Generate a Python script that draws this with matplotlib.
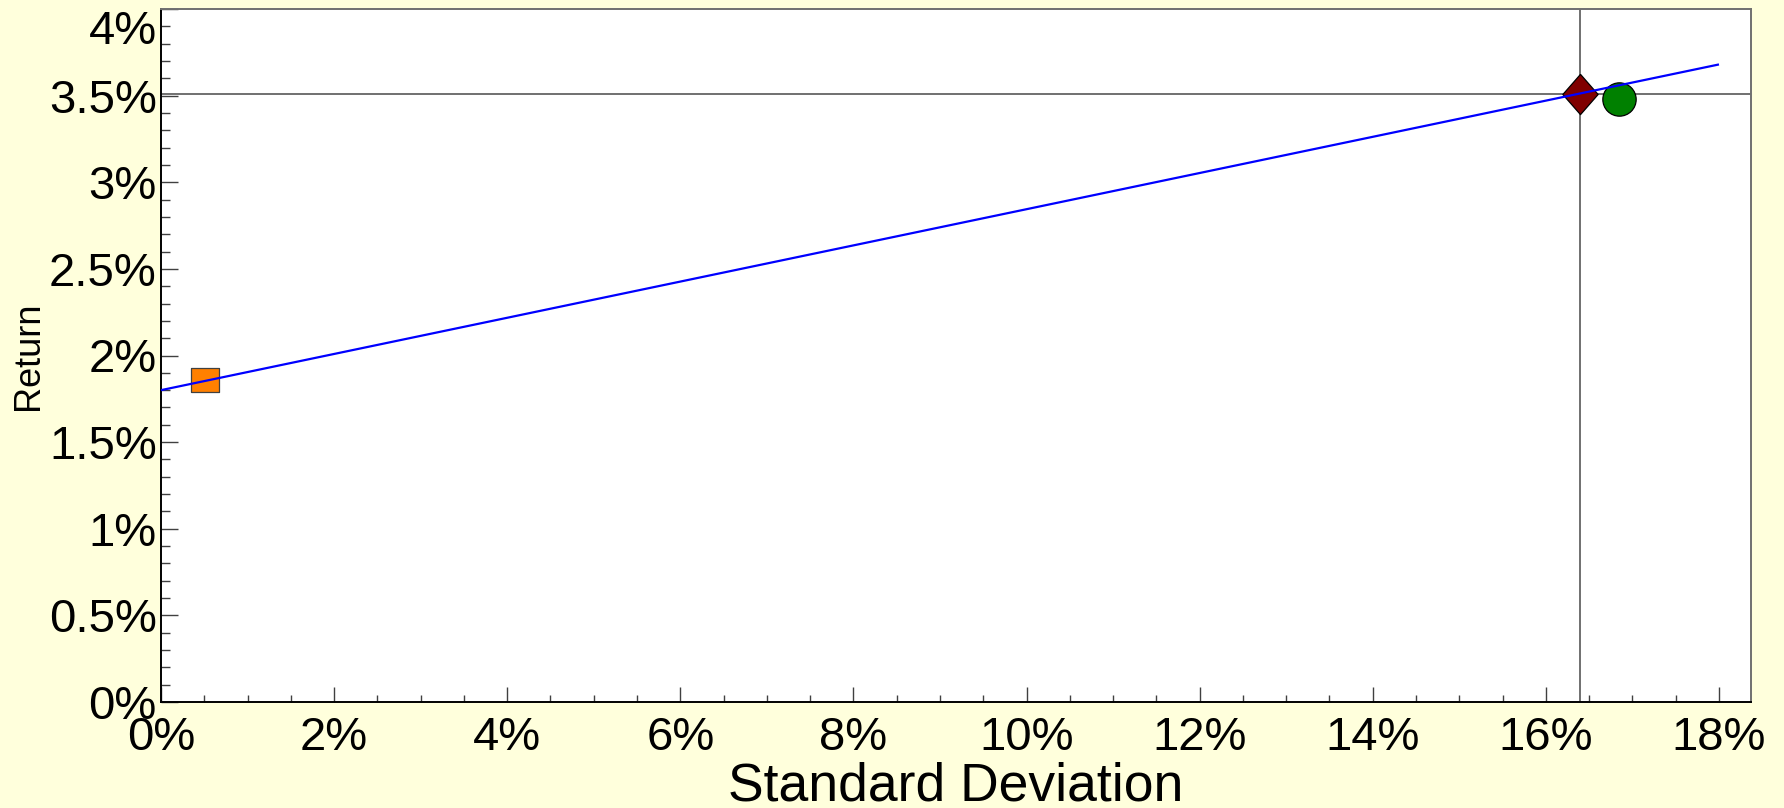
import matplotlib
matplotlib.use("Agg")
import matplotlib.pyplot as plt
from matplotlib.transforms import ScaledTranslation

# Data (percent units)
line_x = [0.0, 18.0]
line_y = [1.80, 3.68]
square_pt = (0.51, 1.858)
diamond_pt = (16.39, 3.51)
circle_pt = (16.85, 3.483)
x_ticks = [0, 2, 4, 6, 8, 10, 12, 14, 16, 18]
y_ticks = [0, 0.5, 1, 1.5, 2, 2.5, 3, 3.5, 4]
x_label = "Standard Deviation"
y_label = "Return"

plt.rcParams['font.family'] = ['Liberation Sans', 'DejaVu Sans']

bg = '#FFFFDC'
fig = plt.figure(figsize=(17.84, 8.08), dpi=100, facecolor=bg)
ax = fig.add_axes([161/1784, 1-702/808, (1751-161)/1784, (702-9)/808])
ax.set_facecolor('white')

ax.set_xlim(0, 18.37)
ax.set_ylim(0, 4.0)

# crosshair
ax.axvline(diamond_pt[0], color='#707070', lw=1.4, zorder=1)
ax.axhline(diamond_pt[1], color='#707070', lw=1.4, zorder=1)

sq = [(-1, -0.89), (1, -0.89), (1, 0.89), (-1, 0.89), (-1, -0.89)]
dm = [(0, 1), (0.875, 0), (0, -1), (-0.875, 0), (0, 1)]
ax.plot([square_pt[0]], [square_pt[1]], marker=sq, ms=19.5, mfc='#FF8000',
        mec='#404040', mew=0.9, ls='none', zorder=3)
ax.plot([diamond_pt[0]], [diamond_pt[1]], marker=dm, ms=29, mfc='#800000',
        mec='black', mew=0.9, ls='none', zorder=3)
ax.plot([circle_pt[0]], [circle_pt[1]], marker='o', ms=24, mfc='#008000',
        mec='black', mew=0.9, ls='none', zorder=3)

ax.plot(line_x, line_y, color='#0000FF', lw=1.6, zorder=4, solid_capstyle='butt')

# spines
for s in ['left', 'bottom']:
    ax.spines[s].set_color('black')
    ax.spines[s].set_linewidth(1.4)
for s in ['top', 'right']:
    ax.spines[s].set_color('#707070')
    ax.spines[s].set_linewidth(1.4)

ax.set_xticks(x_ticks)
ax.set_xticklabels([f"{v:g}%" for v in x_ticks])
ax.set_xticks([v * 0.5 for v in range(0, 37)], minor=True)
ax.set_yticks(y_ticks)
ax.set_yticklabels([f"{v:g}%" for v in y_ticks])
ax.set_yticks([v * 0.1 for v in range(0, 41)], minor=True)

ax.tick_params(axis='both', which='both', direction='in', color='#404040', width=1.0)
ax.tick_params(axis='x', which='major', length=11, pad=10, labelsize=34)
ax.tick_params(axis='x', which='minor', length=5.3)
ax.tick_params(axis='y', which='major', length=12, pad=3, labelsize=34)
ax.tick_params(axis='y', which='minor', length=6.3)

ax.set_xlabel(x_label, fontsize=38.5, labelpad=1)
ax.set_ylabel(y_label, fontsize=26, labelpad=2)

# shift the top y label down like the reference
top_tick = ax.yaxis.get_major_ticks()[-1]
top_tick.label1.set_transform(top_tick.label1.get_transform() +
                              ScaledTranslation(0, -0.18, fig.dpi_scale_trans))

fig.savefig("out.png", dpi=100, facecolor=bg)
